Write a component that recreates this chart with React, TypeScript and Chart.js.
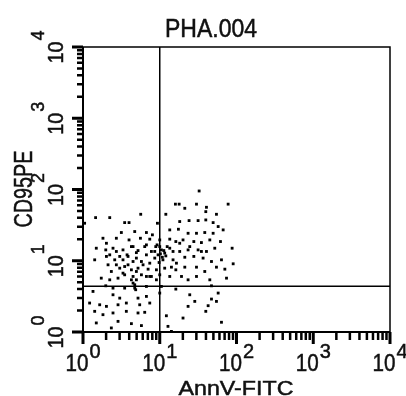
import { useEffect, useRef } from "react";
import { Chart, registerables } from "chart.js";

Chart.register(...registerables);

const TITLE = "PHA.004";
const X_TITLE = "AnnV-FITC";
const Y_TITLE = "CD95PE";

const DECADES = [1, 10, 100, 1000, 10000];
const DECADE_BASE = "10";
const DECADE_EXP = ["0", "1", "2", "3", "4"];

// quadrant gate positions
const QUAD_X = 10;
const QUAD_Y = 4.4;

// AnnV-FITC fluorescence of each event
const annexinV = [
  32.6, 16.0, 17.9, 30.1, 77.8, 40.6, 21.2, 39.8, 54.8, 5.65,
  12.0, 1.46, 2.23, 1.05, 3.49, 3.98, 9.33, 18.2, 24.1, 31.6,
  39.8, 49.6, 57.7, 3.16, 4.72, 6.70, 8.02, 13.5, 17.5, 23.4,
  30.1, 38.6, 49.6, 67.0, 2.72, 3.98, 5.60, 7.41, 10.0, 13.5,
  16.2, 20.1, 27.8, 34.9, 44.9, 61.8, 1.82, 1.49, 1.98, 2.46,
  3.32, 4.27, 5.21, 6.37, 8.87, 10.5, 11.6, 13.5, 18.2, 23.4,
  31.6, 40.6, 52.1, 87.7, 2.23, 3.01, 3.75, 4.96, 6.70, 8.61,
  11.0, 14.9, 21.2, 27.8, 36.7, 47.2, 63.7, 90.5, 1.42, 2.12,
  2.72, 3.49, 4.27, 5.21, 7.05, 9.05, 11.6, 16.2, 21.2, 30.1,
  38.6, 54.8, 70.5, 1.73, 2.23, 2.86, 3.49, 4.49, 5.77, 7.78,
  10.0, 13.5, 23.4, 30.1, 44.9, 74.1, 1.98, 2.46, 3.49, 4.72,
  6.70, 10.5, 16.2, 47.2, 1.35, 2.46, 3.01, 5.21, 6.70, 24.6,
  28.6, 47.2, 57.7, 10.0, 1.22, 1.65, 2.02, 2.86, 3.67, 5.48,
  7.41, 23.4, 42.7, 54.8, 1.42, 1.82, 2.46, 3.67, 5.21, 6.37,
  20.1, 39.8, 1.49, 2.34, 2.86, 4.27, 5.77, 12.2, 12.8, 63.7,
  14.2,
  10.0, 11.3, 9.51, 10.8, 12.5, 8.61, 3.86, 4.49, 4.96, 6.06,
  3.32, 4.72, 4.49, 4.96, 7.41, 3.01, 2.34, 16.5, 19.2, 2.72,
  7.78, 6.70, 9.05, 2.02,
  9.23, 10.2, 12.0, 9.8, 4.49, 4.96, 3.86, 5.77, 2.59, 3.32,
  4.27, 4.86, 14.9, 24.6, 34.9, 2.02, 6.70, 14.2, 7.41, 18.2,
];

// CD95PE fluorescence of each event
const cd95 = [
  95.3, 62.3, 62.3, 62.3, 62.3, 56.3, 54.5, 48.9, 44.9, 44.9,
  44.9, 40.3, 40.3, 33.6, 34.3, 34.3, 33.6, 35.5, 36.6, 36.6,
  37.4, 34.3, 30.2, 24.9, 25.7, 24.9, 23.1, 27.1, 27.7, 24.3,
  24.3, 24.9, 24.3, 27.1, 20.7, 19.6, 20.7, 20.1, 19.6, 20.1,
  18.6, 19.6, 18.6, 18.0, 19.6, 18.6, 20.7, 15.0, 14.2, 15.0,
  14.2, 15.8, 13.9, 15.8, 15.8, 14.2, 12.8, 15.0, 13.5, 14.2,
  14.2, 13.5, 15.0, 15.0, 12.1, 11.5, 12.1, 10.9, 12.1, 10.9,
  10.3, 10.3, 11.2, 11.5, 10.9, 9.76, 10.3, 9.06, 10.3, 8.77,
  8.77, 8.30, 7.46, 7.87, 7.62, 7.46, 7.87, 7.46, 8.13, 8.13,
  7.07, 8.13, 7.62, 5.70, 5.40, 5.70, 6.35, 6.02, 6.35, 6.02,
  6.35, 6.02, 5.40, 6.02, 5.40, 5.70, 4.45, 4.13, 4.13, 4.60,
  4.36, 4.36, 4.00, 4.45, 3.71, 3.33, 2.99, 2.99, 3.16, 3.33,
  2.69, 2.90, 3.52, 3.52, 2.55, 2.41, 2.29, 2.41, 2.55, 2.41,
  2.55, 2.29, 2.34, 2.69, 1.95, 1.75, 1.85, 1.95, 1.85, 1.89,
  1.57, 1.95, 1.34, 1.14, 1.41, 1.31, 1.23, 1.69, 1.20, 1.37,
  1.02,
  15.8, 13.9, 12.1, 11.2, 15.8, 13.5, 8.77, 9.76, 7.07, 8.77,
  10.3, 4.13, 4.86, 5.40, 9.25, 7.87, 7.07, 9.25, 6.02, 13.5,
  13.5, 6.02, 5.40, 11.5,
  16.7, 12.5, 11.7, 9.45, 15.8, 13.0, 11.5, 9.76, 10.3, 6.70,
  5.40, 3.92, 13.5, 15.8, 13.5, 17.6, 16.7, 8.13, 6.02, 17.6,
];

const FONT = "'Liberation Sans', Arial, sans-serif";
const INK = "#111";

function drawFitted(
  ctx: CanvasRenderingContext2D,
  text: string,
  x: number,
  y: number,
  size: number,
  width: number | null,
  align: CanvasTextAlign
) {
  ctx.font = `${size}px ${FONT}`;
  const w = ctx.measureText(text).width;
  const sx = width ? width / w : 1;
  ctx.save();
  ctx.translate(x, y);
  ctx.scale(sx, 1);
  ctx.textAlign = align;
  ctx.textBaseline = "alphabetic";
  ctx.fillText(text, 0, 0);
  ctx.lineWidth = 0.5;
  ctx.strokeStyle = INK;
  ctx.strokeText(text, 0, 0);
  ctx.restore();
}

const overlay = {
  id: "facsOverlay",
  afterDatasetsDraw(chart: any) {
    const { ctx, chartArea: a } = chart;
    const xs = chart.scales.x;
    const ys = chart.scales.y;
    ctx.save();
    ctx.strokeStyle = "#000";
    ctx.fillStyle = INK;

    // frame
    ctx.lineWidth = 1.5;
    ctx.strokeRect(a.left, a.top, a.right - a.left, a.bottom - a.top);
    ctx.lineWidth = 2;
    ctx.beginPath();
    ctx.moveTo(a.left, a.top);
    ctx.lineTo(a.left, a.bottom);
    ctx.lineTo(a.right, a.bottom);
    ctx.stroke();

    // quadrant lines
    const qx = xs.getPixelForValue(QUAD_X);
    const qy = ys.getPixelForValue(QUAD_Y);
    ctx.lineWidth = 1.5;
    ctx.beginPath();
    ctx.moveTo(qx, a.top);
    ctx.lineTo(qx, a.bottom);
    ctx.moveTo(a.left, qy);
    ctx.lineTo(a.right, qy);
    ctx.stroke();

    // ticks
    for (let i = 0; i < DECADES.length; i++) {
      const mults = i === DECADES.length - 1 ? [1] : [1, 2, 3, 4, 5, 6, 7, 8, 9];
      for (const m of mults) {
        const v = DECADES[i] * m;
        const major = m === 1;
        const px = xs.getPixelForValue(v);
        const py = ys.getPixelForValue(v);
        ctx.lineWidth = major ? 3 : 2.5;
        ctx.beginPath();
        ctx.moveTo(px, a.bottom);
        ctx.lineTo(px, a.bottom + (major ? 12 : 8));
        ctx.moveTo(a.left - (major ? 11 : 6), py);
        ctx.lineTo(a.left, py);
        ctx.stroke();
      }
    }

    // decade labels
    for (let i = 0; i < DECADES.length; i++) {
      const exp = DECADE_EXP[i];
      // x axis
      const px = xs.getPixelForValue(DECADES[i]);
      ctx.font = `20px ${FONT}`;
      const supW = ctx.measureText(exp).width;
      const baseW = 23;
      const gw = baseW + 1 + supW;
      const left = px - gw / 2;
      drawFitted(ctx, DECADE_BASE, left, 371, 24, baseW, "left");
      drawFitted(ctx, exp, left + baseW + 1, 358, 20, null, "left");

      // y axis (rotated)
      const py = ys.getPixelForValue(DECADES[i]);
      ctx.font = `18px ${FONT}`;
      const supWy = ctx.measureText(exp).width;
      const baseWy = 22;
      const gh = baseWy + 1 + supWy;
      ctx.save();
      ctx.translate(63, py);
      ctx.rotate(-Math.PI / 2);
      drawFitted(ctx, DECADE_BASE, -gh / 2, 0, 22, baseWy, "left");
      drawFitted(ctx, exp, -gh / 2 + baseWy + 1, -19, 18, null, "left");
      ctx.restore();
    }

    // titles
    drawFitted(ctx, TITLE, 211, 37, 25, 92, "center");
    drawFitted(ctx, X_TITLE, 236, 395, 21, 115, "center");
    ctx.save();
    ctx.translate(32, 189);
    ctx.rotate(-Math.PI / 2);
    drawFitted(ctx, Y_TITLE, 0, 0, 26, 77, "center");
    ctx.restore();

    ctx.restore();
  },
};

export default function App() {
  const ref = useRef<HTMLCanvasElement | null>(null);
  useEffect(() => {
    if (!ref.current) return;
    const chart = new Chart(ref.current, {
      type: "scatter",
      data: {
        datasets: [
          {
            data: annexinV.map((v, i) => ({ x: v, y: cd95[i] })),
            pointStyle: "rect",
            pointRadius: 2.0,
            pointHoverRadius: 2.0,
            backgroundColor: "#000",
            borderWidth: 0,
          },
        ],
      },
      options: {
        animation: false,
        responsive: false,
        events: [],
        layout: { padding: { left: 83, top: 47, right: 16, bottom: 64 } },
        plugins: {
          legend: { display: false },
          tooltip: { enabled: false },
          title: { display: false },
        },
        scales: {
          x: { type: "logarithmic", min: 1, max: 10000, display: false },
          y: { type: "logarithmic", min: 1, max: 10000, display: false },
        },
      },
      plugins: [overlay],
    } as any);
    return () => chart.destroy();
  }, []);
  return (
    <div style={{ position: "absolute", left: 0, top: 0, width: 406, height: 396, background: "#fff" }}>
      <canvas ref={ref} width={406} height={396} style={{ display: "block" }} />
    </div>
  );
}
